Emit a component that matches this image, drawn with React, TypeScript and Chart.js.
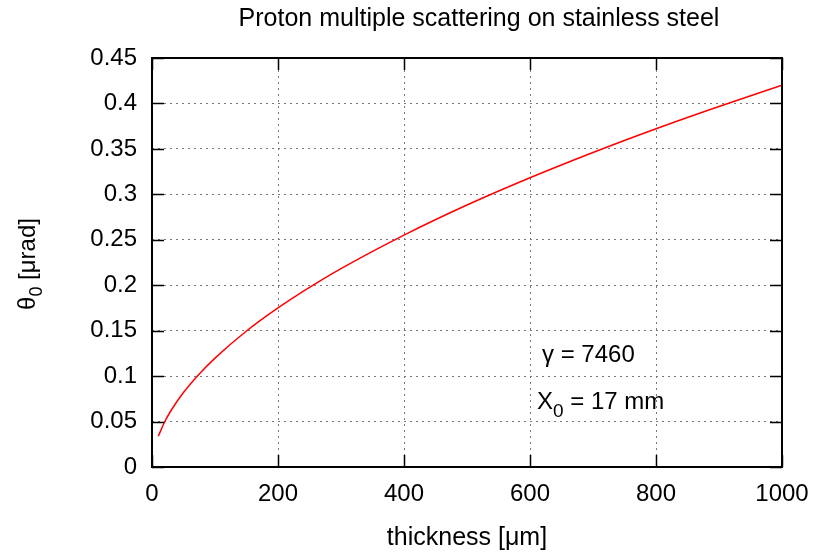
import React, { useEffect, useRef } from "react";
import { Chart, registerables } from "chart.js";

Chart.register(...registerables);

const thicknessUm = [10, 20, 30, 50, 75, 100, 150, 200, 250, 300, 400, 500, 600, 700, 800, 900, 1000];
const theta0 = [0.0338, 0.0495, 0.0619, 0.0819, 0.1023, 0.1198, 0.1496, 0.175, 0.1976, 0.2183, 0.2552, 0.2883, 0.3183, 0.3461, 0.3722, 0.3967, 0.42];
const titleText = "Proton multiple scattering on stainless steel";
const xTitle = "thickness [\u03bcm]";
const gammaText = "\u03b3 = 7460";

const FONT = '"Liberation Sans", Arial, Helvetica, sans-serif';

const framePlugin = {
  id: "frame",
  afterDraw(chart: any) {
    const { ctx, chartArea } = chart;
    const { left, right, top, bottom } = chartArea;
    const xs = chart.scales.x;
    const ys = chart.scales.y;
    ctx.save();
    ctx.strokeStyle = "#000";
    ctx.lineWidth = 1.5;
    const tl = 12;
    ctx.beginPath();
    xs.ticks.forEach((t: any) => {
      const px = Math.round(xs.getPixelForValue(t.value)) + 0.5;
      ctx.moveTo(px, bottom);
      ctx.lineTo(px, bottom - tl);
      ctx.moveTo(px, top);
      ctx.lineTo(px, top + tl);
    });
    ys.ticks.forEach((t: any) => {
      const py = Math.round(ys.getPixelForValue(t.value)) + 0.5;
      ctx.moveTo(left, py);
      ctx.lineTo(left + tl, py);
      ctx.moveTo(right, py);
      ctx.lineTo(right - tl, py);
    });
    ctx.stroke();
    ctx.lineWidth = 2;
    ctx.strokeRect(left, top, right - left, bottom - top);

    ctx.fillStyle = "#000";
    ctx.textBaseline = "alphabetic";
    ctx.textAlign = "center";
    ctx.font = "25px " + FONT;
    ctx.fillText(titleText, 479, 26);

    ctx.font = "24px " + FONT;
    ctx.textAlign = "left";
    ctx.fillText(gammaText, 542, 362);
    ctx.fillText("X", 537, 409);
    const wX = ctx.measureText("X").width;
    ctx.font = "19px " + FONT;
    ctx.fillText("0", 537 + wX, 417);
    const w0 = ctx.measureText("0").width;
    ctx.font = "24px " + FONT;
    ctx.fillText(" = 17 mm", 537 + wX + w0, 409);

    ctx.textAlign = "center";
    ctx.font = "25px " + FONT;
    ctx.fillText(xTitle, 467, 545);

    ctx.translate(35, 264);
    ctx.rotate(-Math.PI / 2);
    ctx.font = "24px " + FONT;
    const a = "\u03b8";
    const c = " [\u03bcrad]";
    const wa = ctx.measureText(a).width;
    const wc = ctx.measureText(c).width;
    ctx.font = "18px " + FONT;
    const wb = ctx.measureText("0").width;
    const total = wa + wb + wc;
    const x0 = -total / 2;
    ctx.textAlign = "left";
    ctx.font = "24px " + FONT;
    ctx.fillText(a, x0, 0);
    ctx.font = "18px " + FONT;
    ctx.fillText("0", x0 + wa, 7);
    ctx.font = "24px " + FONT;
    ctx.fillText(c, x0 + wa + wb, 0);
    ctx.restore();
  },
};

export default function App() {
  const ref = useRef<HTMLCanvasElement>(null);
  useEffect(() => {
    if (!ref.current) return;
    const chart = new Chart(ref.current, {
      type: "line",
      data: {
        datasets: [
          {
            data: thicknessUm.map((x, i) => ({ x, y: theta0[i] })),
            borderColor: "#ff0000",
            borderWidth: 1.5,
            pointRadius: 0,
            cubicInterpolationMode: "monotone",
            fill: false,
          },
        ],
      },
      options: {
        animation: false,
        responsive: false,
        maintainAspectRatio: false,
        layout: { padding: { left: 0, right: 34, top: 58, bottom: 0 } },
        plugins: {
          legend: { display: false },
          tooltip: { enabled: false },
          title: { display: false },
        },
        scales: {
          x: {
            type: "linear",
            min: 0,
            max: 1000,
            ticks: {
              stepSize: 200,
              color: "#000",
              font: { family: FONT, size: 24 },
              padding: 13,
              maxRotation: 0,
              callback: (v: any) => String(v),
            },
            grid: { color: "#777", lineWidth: 1, drawTicks: false },
            border: { display: false, dash: [2, 4] },
            afterFit: (s: any) => { s.height = 85; s.paddingLeft = 0; s.paddingRight = 0; },
          },
          y: {
            min: 0,
            max: 0.45,
            ticks: {
              stepSize: 0.05,
              color: "#000",
              font: { family: FONT, size: 24 },
              padding: 15,
              callback: (v: any) => String(Number(Number(v).toFixed(2))),
            },
            grid: { color: "#777", lineWidth: 1, drawTicks: false },
            border: { display: false, dash: [2, 4] },
            afterFit: (s: any) => { s.width = 152; s.paddingTop = 0; s.paddingBottom = 0; },
          },
        },
      },
      plugins: [framePlugin],
    });
    return () => chart.destroy();
  }, []);
  return (
    <div style={{ position: "fixed", left: 0, top: 0, width: 816, height: 552, background: "#fff" }}>
      <canvas ref={ref} width={816} height={552} />
    </div>
  );
}
